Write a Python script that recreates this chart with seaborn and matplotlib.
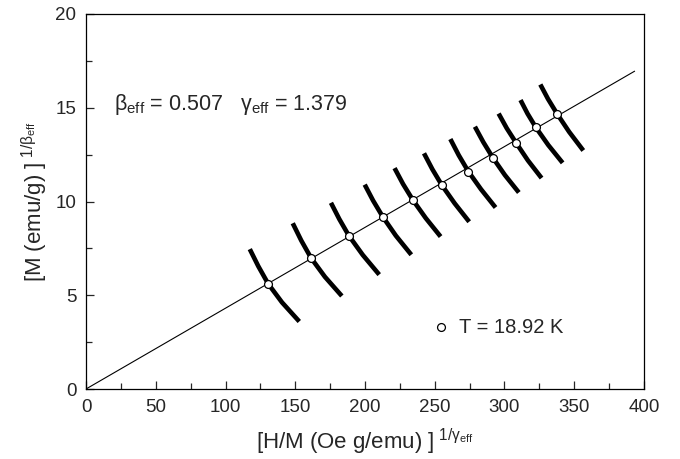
import matplotlib
matplotlib.use("Agg")
import matplotlib.pyplot as plt
import seaborn as sns
import numpy as np
import pandas as pd
from matplotlib.ticker import MultipleLocator

# ---- data ----
point_x = [130.6, 161.4, 188.5, 212.7, 234.4, 255.2, 274.1, 291.7, 308.4, 322.5, 337.6]
point_y = [5.61, 6.98, 8.17, 9.19, 10.07, 10.86, 11.60, 12.33, 13.12, 13.95, 14.69]

fit_x = [0.0, 393.3]
fit_y = [0.0, 16.95]

curve_x = [
    [117.4, 123.5, 130.6, 140.5, 152.9],
    [148.2, 154.3, 161.4, 171.3, 183.4],
    [175.6, 181.6, 188.5, 198.4, 210.2],
    [199.8, 205.8, 212.7, 222.1, 233.2],
    [221.2, 227.3, 234.4, 243.6, 254.2],
    [242.3, 248.3, 255.2, 264.3, 274.7],
    [261.2, 267.2, 274.1, 283.2, 293.6],
    [278.8, 284.8, 291.7, 300.3, 310.3],
    [295.8, 301.6, 308.4, 316.8, 326.6],
    [311.5, 316.5, 322.5, 331.4, 341.7],
    [325.7, 331.2, 337.6, 346.4, 356.5],
]
curve_y = [
    [7.46, 6.55, 5.61, 4.62, 3.60],
    [8.84, 7.92, 6.98, 5.98, 4.96],
    [9.93, 9.06, 8.17, 7.15, 6.10],
    [10.90, 10.05, 9.19, 8.18, 7.16],
    [11.78, 10.93, 10.07, 9.11, 8.13],
    [12.57, 11.72, 10.86, 9.90, 8.92],
    [13.33, 12.47, 11.60, 10.65, 9.68],
    [13.99, 13.17, 12.33, 11.41, 10.48],
    [14.69, 13.91, 13.12, 12.19, 11.25],
    [15.41, 14.69, 13.95, 13.01, 12.06],
    [16.24, 15.47, 14.69, 13.71, 12.72],
]

legend_label = "T = 18.92 K"

# ---- style ----
sns.set_style("ticks")
plt.rcParams['font.family'] = ['Liberation Sans', 'DejaVu Sans']
plt.rcParams['mathtext.fontset'] = 'custom'
plt.rcParams['mathtext.rm'] = 'Liberation Sans'
plt.rcParams['mathtext.it'] = 'Liberation Sans:italic'
plt.rcParams['mathtext.bf'] = 'Liberation Sans:bold'

fig = plt.figure(figsize=(6.8, 4.59), dpi=100)
ax = fig.add_axes([0.1265, 0.1525, 0.8205, 0.817])

# curves
rows = []
for i, (cx, cy) in enumerate(zip(curve_x, curve_y)):
    for j, (a, b) in enumerate(zip(cx, cy)):
        rows.append({"x": a, "y": b, "curve": i, "order": j})
curves_df = pd.DataFrame(rows)
sns.lineplot(data=curves_df, x="x", y="y", units="curve", estimator=None,
             sort=False, color="black", lw=3.3, ax=ax, legend=False,
             solid_capstyle="butt")

# fit line
fit_df = pd.DataFrame({"x": fit_x, "y": fit_y})
sns.lineplot(data=fit_df, x="x", y="y", color="black", lw=0.8, ax=ax,
             legend=False, zorder=3)

# points
pts_df = pd.DataFrame({"x": point_x, "y": point_y})
sns.scatterplot(data=pts_df, x="x", y="y", marker="o", s=32,
                facecolor="white", edgecolor="black", linewidth=0.9,
                ax=ax, zorder=4, label=legend_label)

ax.set_xlim(0, 400)
ax.set_ylim(0, 20)
ax.xaxis.set_major_locator(MultipleLocator(50))
ax.xaxis.set_minor_locator(MultipleLocator(25))
ax.yaxis.set_major_locator(MultipleLocator(5))
ax.yaxis.set_minor_locator(MultipleLocator(2.5))
ax.tick_params(which="both", direction="in", top=False, right=False,
               width=0.9, labelsize=13.5)
ax.tick_params(axis="x", pad=7)
ax.tick_params(axis="y", pad=7)
ax.tick_params(which="major", length=6)
ax.tick_params(which="minor", length=4)
for sp in ax.spines.values():
    sp.set_visible(True)
    sp.set_linewidth(0.9)
    sp.set_color("black")

ax.set_xlabel(r"[H/M (Oe g/emu) ]$^{\ 1/\mathrm{\gamma}_{\mathrm{eff}}}$",
              fontsize=16, labelpad=8)
ax.set_ylabel(r"[M (emu/g) ]$^{\ 1/\mathrm{\beta}_{\mathrm{eff}}}$",
              fontsize=16, labelpad=4)

ax.text(20.0, 15.2,
        r"$\mathrm{\beta}_{\mathrm{eff}}$ = 0.507   $\mathrm{\gamma}_{\mathrm{eff}}$ = 1.379",
        fontsize=15.5, ha="left", va="center")

leg = ax.legend(loc="center left", bbox_to_anchor=(0.6, 0.165), frameon=False,
                fontsize=14.5, handletextpad=0.3, borderaxespad=0,
                handlelength=1.2)

fig.savefig("out.png", dpi=100)
